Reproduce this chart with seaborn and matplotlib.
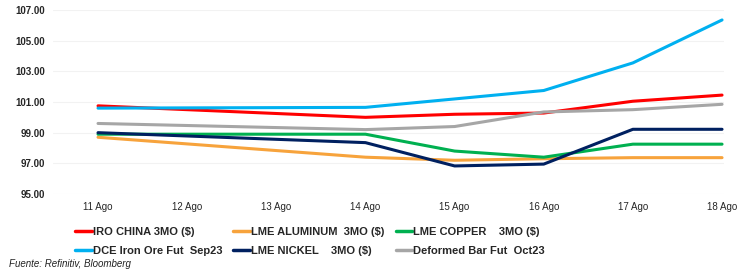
import pandas as pd
import seaborn as sns
import matplotlib.pyplot as plt
from matplotlib.lines import Line2D

# trading days (weekend 12-13 Ago has no data)
days = [11, 14, 15, 16, 17, 18]
tick_days = [11, 12, 13, 14, 15, 16, 17, 18]
tick_labels = ["11 Ago", "12 Ago", "13 Ago", "14 Ago", "15 Ago", "16 Ago", "17 Ago", "18 Ago"]

iro_china = [100.75, 100.0, 100.2, 100.28, 101.05, 101.45]
lme_aluminum = [98.7, 97.4, 97.2, 97.3, 97.37, 97.37]
lme_copper = [98.9, 98.9, 97.8, 97.4, 98.25, 98.25]
dce_iron = [100.6, 100.65, 101.2, 101.75, 103.55, 106.35]
lme_nickel = [99.0, 98.35, 96.83, 96.95, 99.22, 99.22]
deformed_bar = [99.6, 99.2, 99.4, 100.35, 100.5, 100.85]

series = {
    "IRO CHINA 3MO ($)": iro_china,
    "LME ALUMINUM  3MO ($)": lme_aluminum,
    "LME COPPER    3MO ($)": lme_copper,
    "DCE Iron Ore Fut  Sep23": dce_iron,
    "LME NICKEL    3MO ($)": lme_nickel,
    "Deformed Bar Fut  Oct23": deformed_bar,
}
colors = ["#FF0000", "#F7A33C", "#00B050", "#00B0F0", "#002060", "#A6A6A6"]

rows = []
for name, vals in series.items():
    for d, v in zip(days, vals):
        rows.append({"day": d, "value": v, "serie": name})
df = pd.DataFrame(rows)

sns.set_style("white")
plt.rcParams["font.family"] = ["Liberation Sans Narrow", "Liberation Sans", "DejaVu Sans"]

fig = plt.figure(figsize=(7.4, 2.75), dpi=100)
ax = fig.add_axes([53 / 740, 1 - 194 / 275, 671 / 740, 184 / 275])

palette = dict(zip(series.keys(), colors))
sns.lineplot(data=df, x="day", y="value", hue="serie", palette=palette,
             linewidth=2.2, ax=ax, legend=False)

ax.set_xlim(10.495, 18.022)
ax.set_ylim(95, 107)
ax.set_yticks(range(95, 108, 2))
ax.set_yticklabels([f"{v:.2f}" for v in range(95, 108, 2)], fontsize=7, fontweight="bold")
ax.set_xticks(tick_days)
ax.set_xticklabels(tick_labels, fontsize=7)
ax.tick_params(axis="both", length=0, pad=6)
ax.grid(axis="y", color="#F2F2F2", linewidth=0.8)
ax.set_xlabel("")
ax.set_ylabel("")
for s in ax.spines.values():
    s.set_visible(False)

# legend: 2 rows x 3 cols, filled row-wise like the original
names = list(series.keys())
order = [0, 3, 1, 4, 2, 5]
handles = [Line2D([], [], color=colors[i], linewidth=2.5) for i in order]
labels = [names[i] for i in order]
fig.legend(handles, labels, ncol=3, loc="upper left", bbox_to_anchor=(75 / 740, 1 - 227 / 275),
           frameon=False, prop={"size": 8, "weight": "bold"}, handlelength=1.5,
           handletextpad=0.1, columnspacing=1.0, labelspacing=0.8, borderaxespad=0,
           borderpad=0)

fig.text(0.012, 0.03, "Fuente: Refinitiv, Bloomberg", fontsize=7, style="italic", color="#222222")

plt.savefig("out.png", dpi=100, facecolor="white")
